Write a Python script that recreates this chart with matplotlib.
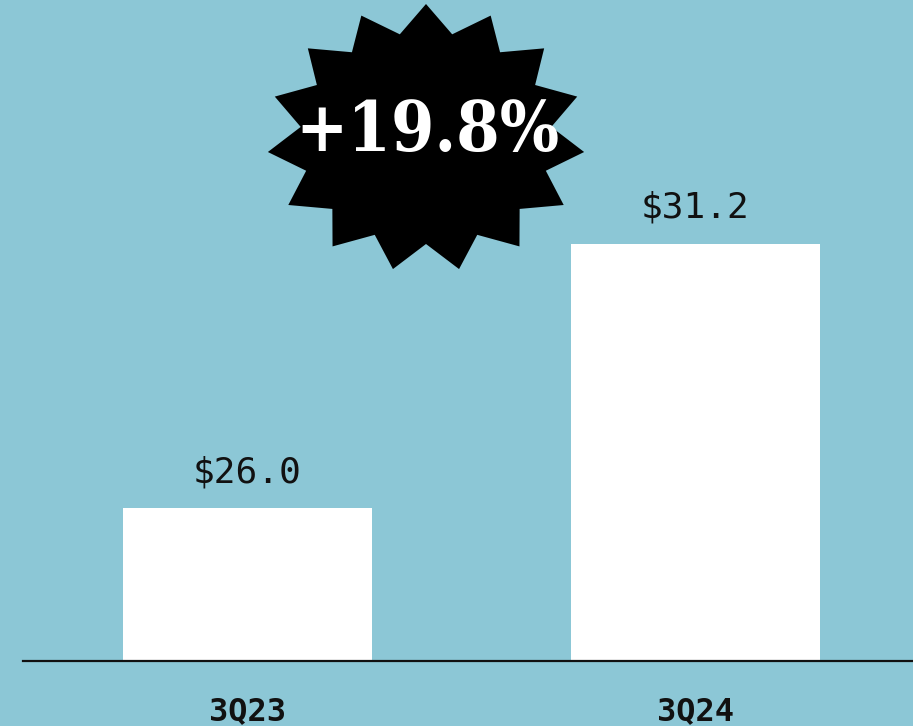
import matplotlib
matplotlib.use("Agg")
import matplotlib.pyplot as plt
from matplotlib.patches import Polygon
import numpy as np

quarters = ["3Q23", "3Q24"]
revenue = [26.0, 31.2]
value_labels = ["$26.0", "$31.2"]
growth_label = "+19.8%"

bg = "#8cc7d6"

fig = plt.figure(figsize=(9.13, 7.26), dpi=100, facecolor=bg)
ax = fig.add_axes([23 / 913, 65 / 726, 890 / 913, 661 / 726])
ax.set_facecolor(bg)

x = np.arange(len(quarters))
bars = ax.bar(x, revenue, width=0.556, color="white", zorder=2)
ax.set_xlim(-0.501, 1.4855)
ax.set_ylim(23, 36)

for b, lab in zip(bars, value_labels):
    ax.annotate(lab, (b.get_x() + b.get_width() / 2, b.get_height()),
                xytext=(0, 14), textcoords="offset points",
                ha="center", va="bottom", fontsize=26,
                family="DejaVu Sans Mono", color="#111111")

ax.set_xticks(x)
ax.set_xticklabels(quarters, family="DejaVu Sans Mono", fontweight="bold",
                   fontsize=23, color="#111111")
ax.tick_params(axis="x", length=0, pad=25)
ax.set_yticks([])
for side in ["top", "left", "right"]:
    ax.spines[side].set_visible(False)
ax.spines["bottom"].set_linewidth(1.6)
ax.spines["bottom"].set_color("#111111")

# starburst badge behind the growth figure
n_pts = 15
cx, cy = 426 / 913, 1 - 138 / 726
ang = np.pi / 2 + np.arange(2 * n_pts) * np.pi / n_pts
rx = np.where(np.arange(2 * n_pts) % 2 == 0, 159 / 913, 126 / 913)
ry = np.where(np.arange(2 * n_pts) % 2 == 0, 134 / 726, 106 / 726)
star = np.column_stack([cx + rx * np.cos(ang), cy + ry * np.sin(ang)])
fig.patches.append(Polygon(star, closed=True, transform=fig.transFigure,
                           facecolor="black", edgecolor="none", zorder=3))
fig.text(427 / 913, 1 - 132 / 726, growth_label, ha="center", va="center",
         color="white", fontsize=50,
         family=["DejaVu Serif Condensed", "DejaVu Serif"],
         fontweight="bold", fontstretch="condensed", zorder=4)

fig.savefig("out.png", dpi=100, facecolor=bg)
